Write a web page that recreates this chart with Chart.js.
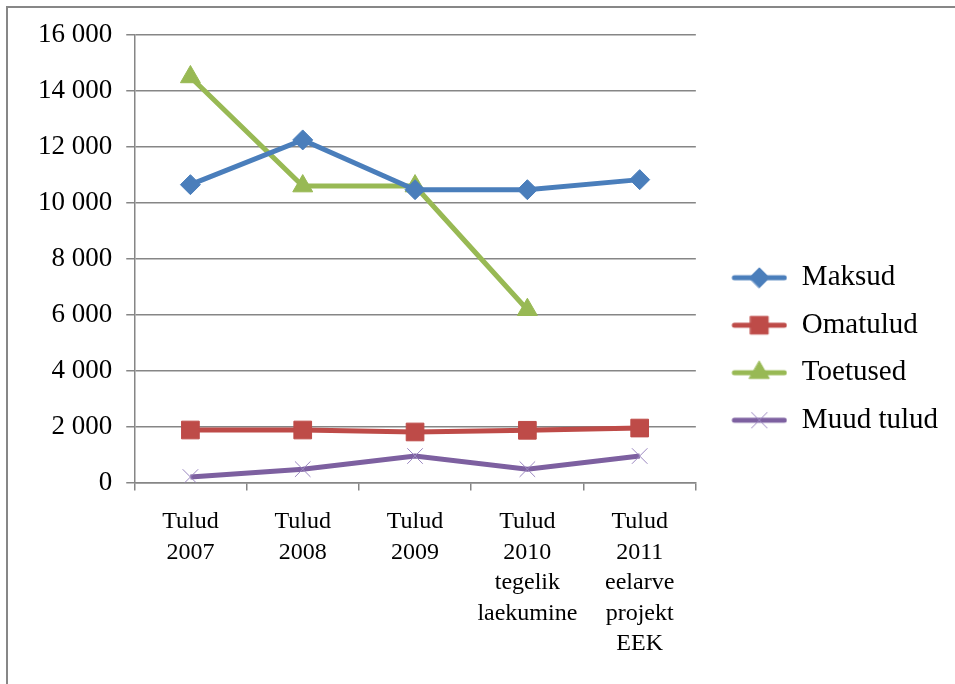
<!DOCTYPE html>
<html>
<head>
<meta charset="utf-8">
<script src="https://cdn.jsdelivr.net/npm/chart.js@4/dist/chart.umd.min.js"></script>
<style>
  body { margin: 0; background: #fff; }
  #wrap { position: relative; width: 955px; height: 684px; }
  #frame { position: absolute; left: 6px; top: 6px; right: 0; bottom: 0; border-left: 2px solid #878787; border-top: 2px solid #878787; }
  canvas { position: absolute; left: 0; top: 0; }
</style>
</head>
<body>
<div id="wrap">
  <div id="frame"></div>
  <canvas id="chart_1" width="955" height="684"></canvas>
</div>
<script>
// categories and series
const labels = [
    ['Tulud', '2007'],
    ['Tulud', '2008'],
    ['Tulud', '2009'],
    ['Tulud', '2010', 'tegelik', 'laekumine'],
    ['Tulud', '2011', 'eelarve', 'projekt', 'EEK']
];
const maksud = [10650, 12250, 10470, 10470, 10830];
const omatulud = [1880, 1880, 1810, 1870, 1950];
const toetused = [14500, 10600, 10600, 6180, null];
const muudTulud = [200, 480, 950, 480, 950];

const FONT = "'Liberation Serif', 'Times New Roman', serif";
const ICON_W = 73;

// small canvas: line with marker, used as legend symbol (empty room on the left)
const legend_icon = (color, style, radius, markerColor) => {
    const c = document.createElement('canvas');
    c.width = ICON_W; c.height = 26;
    const ctx = c.getContext('2d');
    ctx.strokeStyle = color;
    ctx.lineWidth = 5;
    ctx.lineCap = 'round';
    ctx.beginPath();
    ctx.moveTo(ICON_W - 53, 13); ctx.lineTo(ICON_W - 3, 13);
    ctx.stroke();
    ctx.fillStyle = color;
    ctx.strokeStyle = markerColor;
    ctx.lineWidth = 1;
    Chart.helpers.drawPoint(ctx, {pointStyle: style, radius: radius, borderWidth: 1}, ICON_W - 28, 13);
    return c;
}

const series = [
    {label: 'Maksud', data: maksud, color: '#4A7EBB', style: 'rectRot', radius: 10},
    {label: 'Omatulud', data: omatulud, color: '#BE4B48', style: 'rect', radius: 12.5},
    {label: 'Toetused', data: toetused, color: '#98B954', style: 'triangle', radius: 11.5},
    {label: 'Muud tulud', data: muudTulud, color: '#7D60A0', style: 'crossRot', radius: 11}
];

window.onload = () => {
    const ctx = document.getElementById('chart_1').getContext('2d');
    new Chart(ctx, {
        type: 'line',
        data: {
            labels: labels,
            datasets: series.map(s => {
                const markerColor = s.style === 'crossRot' ? '#9a86c0' : s.color;
                return {
                    label: s.label,
                    data: s.data,
                    borderColor: s.color,
                    backgroundColor: s.color,
                    borderWidth: 5,
                    pointStyle: s.style,
                    pointRadius: s.radius,
                    pointHoverRadius: s.radius,
                    pointBorderWidth: 1,
                    pointBackgroundColor: s.color,
                    pointBorderColor: markerColor,
                    tension: 0,
                    spanGaps: false,
                    legendIcon: legend_icon(s.color, s.style, s.radius, markerColor)
                };
            })
        },
        options: {
            responsive: false,
            animation: false,
            layout: { padding: { left: 24, right: 7, top: 23, bottom: 9 } },
            plugins: {
                tooltip: { enabled: false },
                // empty spacer above the plot only (legend keeps full height)
                title: { display: true, text: '', fullSize: false, padding: { top: 0, bottom: 12 }, font: { size: 0.01, lineHeight: 0 } },
                legend: {
                    position: 'right',
                    maxWidth: 300,
                    labels: {
                        usePointStyle: true,
                        pointStyleWidth: ICON_W,
                        boxHeight: 26,
                        padding: 18.5,
                        color: '#000',
                        font: { family: FONT, size: 29 },
                        generateLabels: chart => chart.data.datasets.map((d, i) => ({
                            text: d.label,
                            pointStyle: d.legendIcon,
                            fillStyle: d.borderColor,
                            strokeStyle: d.borderColor,
                            lineWidth: 0,
                            fontColor: '#000',
                            hidden: false,
                            datasetIndex: i
                        }))
                    }
                }
            },
            scales: {
                x: {
                    offset: true,
                    grid: { offset: true, drawOnChartArea: false, drawTicks: true, tickLength: 8, color: '#868686', lineWidth: 1.5 },
                    border: { color: '#868686', width: 1.5 },
                    ticks: { color: '#000', padding: 16, maxRotation: 0, autoSkip: false, font: { family: FONT, size: 24, lineHeight: 1.27 } }
                },
                y: {
                    min: 0,
                    max: 16000,
                    grid: { color: '#868686', lineWidth: 1.5, tickLength: 8 },
                    border: { color: '#868686', width: 1.5 },
                    ticks: {
                        stepSize: 2000,
                        color: '#000',
                        padding: 14,
                        font: { family: FONT, size: 27 },
                        callback: v => String(v).replace(/\B(?=(\d{3})+(?!\d))/g, ' ')
                    }
                }
            }
        }
    });
}
</script>
</body>
</html>
